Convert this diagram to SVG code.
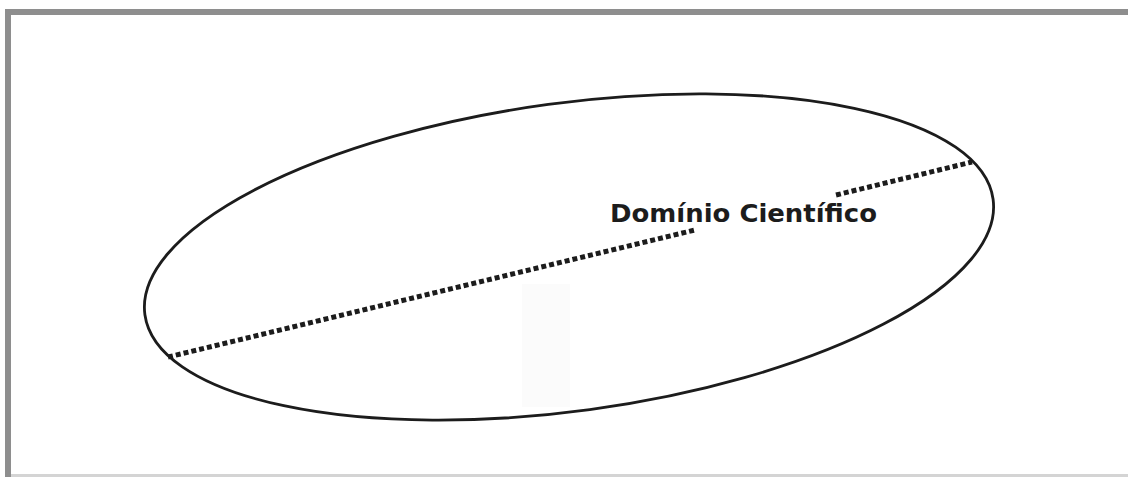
<svg xmlns="http://www.w3.org/2000/svg" width="1128" height="477" viewBox="0 0 1128 477">
  <style>
    .frame { fill: #8e8e8e; }
    .domain { fill: none; stroke: #1c1c1c; stroke-width: 2.8; }
    .axis { fill: none; stroke: #1c1c1c; stroke-width: 5; stroke-dasharray: 5 3; }
    .label { font-family: "DejaVu Sans", "Liberation Sans", sans-serif; font-weight: bold; font-size: 24px; fill: #1c1c1c; }
  </style>
  <rect width="1128" height="477" fill="#ffffff"/>
  <!-- frame edges -->
  <rect class="frame" x="5" y="9" width="1123" height="6"/>
  <rect class="frame" x="5" y="9" width="6" height="468"/>
  <rect x="11" y="474" width="1117" height="3" fill="#d4d4d4"/>
  <!-- faint background panel -->
  <rect x="522" y="284" width="48" height="123" fill="#fbfbfb"/>

  <g id="dominio">
    <ellipse class="domain" cx="569" cy="257" rx="428" ry="154" transform="rotate(-7.75 569 257)"/>
    <text class="label" x="610" y="222" textLength="267" lengthAdjust="spacingAndGlyphs">Domínio Científico</text>
  </g>

  <g id="connectors">
    <line class="axis" x1="168" y1="357" x2="695" y2="230"/>
    <line class="axis" x1="836" y1="195" x2="972" y2="162"/>
  </g>
</svg>
